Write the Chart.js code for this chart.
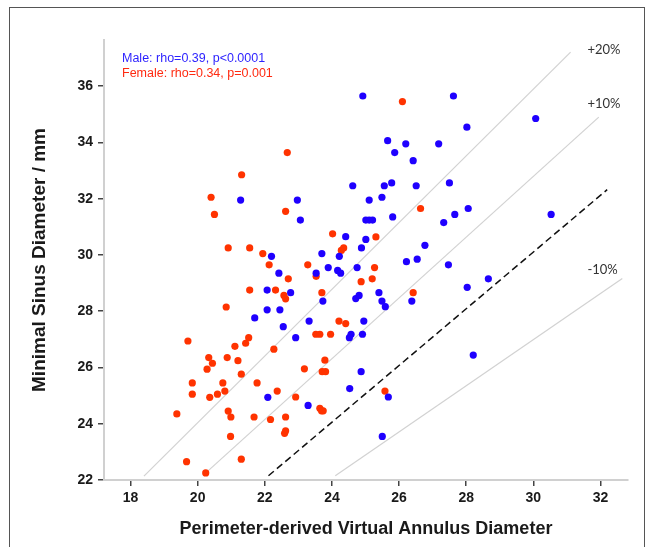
<!DOCTYPE html>
<html>
<head>
<meta charset="utf-8">
<script src="https://cdn.jsdelivr.net/npm/chart.js@4.4.1/dist/chart.umd.min.js"></script>
<style>
  body { margin: 0; background: #fff; }
  #wrap { width: 654px; height: 547px; }
</style>
</head>
<body>
<div id="wrap"><canvas id="scatterChart" width="654" height="547"></canvas></div>
<script>
// tick labels
const xTicks = [18, 20, 22, 24, 26, 28, 30, 32];
const yTicks = [22, 24, 26, 28, 30, 32, 34, 36];

// male: perimeter-derived annulus diameter / minimal sinus diameter
const maleAnnulus = [24.92, 27.62, 28.02, 30.07, 25.66, 26.20, 25.87, 27.18, 26.42, 24.62,
  25.56, 25.78, 26.51, 27.50, 21.28, 22.97, 25.11, 25.49, 28.06, 23.06,
  25.01, 25.11, 25.21, 25.81, 27.66, 27.33, 24.41, 25.01, 24.88, 26.77,
  22.20, 23.70, 24.22, 26.22, 26.54, 27.47, 22.42, 23.89, 24.75, 24.17,
  24.26, 23.53, 28.03, 28.66, 22.77, 25.40, 24.81, 24.71, 23.73, 25.49,
  26.38, 25.59, 22.07, 22.07, 22.45, 21.70, 22.55, 23.32, 24.95, 24.57,
  24.91, 24.52, 22.92, 24.87, 24.53, 25.68, 23.29, 25.50, 28.21, 22.09, 30.53];
const maleSinus = [35.65, 35.65, 34.54, 34.85, 34.06, 33.95, 33.64, 33.95, 33.35, 32.46,
  32.46, 32.56, 32.46, 32.56, 31.95, 31.95, 31.95, 32.05, 31.65, 31.24,
  31.24, 31.24, 31.24, 31.35, 31.44, 31.15, 30.65, 30.55, 30.25, 30.34,
  29.95, 30.05, 29.95, 29.76, 29.85, 29.65, 29.35, 29.55, 29.55, 29.45,
  29.35, 29.35, 28.85, 29.15, 28.66, 28.66, 28.56, 28.45, 28.36, 28.36,
  28.36, 28.16, 28.75, 28.05, 28.05, 27.76, 27.45, 27.65, 27.65, 27.18,
  27.18, 27.06, 27.06, 25.85, 25.25, 24.95, 24.65, 23.55, 26.44, 24.94, 31.44];

// female
const femaleAnnulus = [26.10, 22.67, 21.31, 20.40, 20.50, 22.62, 26.64, 20.91, 21.55, 21.94,
  22.13, 22.70, 21.55, 22.32, 22.57, 22.62, 20.85, 24.02, 25.31, 24.28,
  24.35, 23.28, 25.27, 23.53, 24.87, 25.20, 23.70, 26.42, 24.21, 24.41,
  23.52, 23.64, 23.96, 19.71, 21.52, 21.43, 21.11, 22.27, 20.33, 20.44,
  20.88, 21.20, 20.28, 21.30, 19.84, 20.75, 21.77, 19.84, 20.36, 20.59,
  20.81, 22.37, 19.38, 20.91, 20.99, 21.68, 22.17, 22.62, 22.62, 22.59,
  20.98, 19.67, 21.30, 20.24, 23.79, 23.18, 23.71, 23.81, 25.58, 22.92,
  23.64, 23.69, 23.74];
const femaleSinus = [35.45, 33.64, 32.85, 32.05, 31.44, 31.55, 31.65, 30.25, 30.25, 30.05,
  29.65, 29.15, 28.75, 28.75, 28.56, 28.44, 28.15, 30.75, 30.64, 30.16,
  30.25, 29.65, 29.55, 29.24, 29.05, 29.15, 28.66, 28.66, 27.65, 27.56,
  27.18, 27.18, 27.18, 26.94, 27.06, 26.86, 26.75, 26.65, 26.35, 26.15,
  26.35, 26.24, 25.94, 25.76, 25.45, 25.45, 25.45, 25.05, 24.94, 25.05,
  25.16, 25.16, 24.35, 24.45, 24.24, 24.24, 24.15, 24.24, 23.75, 23.66,
  23.55, 22.65, 22.74, 22.25, 26.26, 25.95, 25.85, 25.85, 25.16, 24.95,
  24.55, 24.46, 24.46];

// reference lines (+20%, +10%, identity, -10%), end points
const refNames = ["+20%", "+10%", "", "-10%"];
const refStartX = [18.40, 20.26, 22.11, 24.10];
const refStartY = [22.14, 22.27, 22.15, 22.15];
const refEndX = [31.11, 31.95, 32.20, 32.65];
const refEndY = [37.21, 34.90, 32.32, 29.16];

const toPoints = (xs, ys) => xs.map((x, i) => ({ x: x, y: ys[i] }));

const refDatasets = refNames.map((name, i) => ({
  type: "line",
  label: name || "identity",
  data: [{ x: refStartX[i], y: refStartY[i] }, { x: refEndX[i], y: refEndY[i] }],
  borderColor: name ? "#d2d2d2" : "#111",
  borderWidth: name ? 1.2 : 1.5,
  borderDash: name ? [] : [7, 4],
  pointRadius: 0,
  fill: false,
  order: 2,
}));

const FONT = "'Liberation Sans', Arial, sans-serif";

// frame, stats text and % labels
const extras = {
  id: "extras",
  beforeDraw(chart) {
    const ctx = chart.ctx;
    ctx.save();
    ctx.fillStyle = "#fff";
    ctx.fillRect(0, 0, chart.width, chart.height);
    ctx.strokeStyle = "#555";
    ctx.lineWidth = 1;
    ctx.strokeRect(9.5, 7.5, 635, 600);
    ctx.restore();
  },
  afterDraw(chart) {
    const ctx = chart.ctx;
    const xs = chart.scales.x, ys = chart.scales.y;
    ctx.save();
    ctx.font = "12.5px " + FONT;
    ctx.textBaseline = "middle";
    ctx.fillStyle = "#2a1fff";
    ctx.fillText("Male: rho=0.39, p<0.0001", 122, 59);
    ctx.fillStyle = "#ff2a10";
    ctx.fillText("Female: rho=0.34, p=0.001", 122, 74);

    ctx.font = "13px Lato, 'Open Sans', sans-serif";
    ctx.fillStyle = "#333";
    const labelY = [37.28, 35.37, null, 29.48];
    refNames.forEach((name, i) => {
      if (!name) return;
      ctx.fillText(name, xs.getPixelForValue(31.61), ys.getPixelForValue(labelY[i]));
    });
    ctx.restore();
  },
};

new Chart(document.getElementById("scatterChart"), {
  type: "scatter",
  data: {
    datasets: [
      {
        label: "Male",
        data: toPoints(maleAnnulus, maleSinus),
        backgroundColor: "#1f00ff",
        borderWidth: 0,
        pointRadius: 3.6,
        order: 1,
      },
      {
        label: "Female",
        data: toPoints(femaleAnnulus, femaleSinus),
        backgroundColor: "#ff3300",
        borderWidth: 0,
        pointRadius: 3.6,
        order: 1,
      },
      ...refDatasets,
    ],
  },
  options: {
    responsive: false,
    animation: false,
    devicePixelRatio: 1,
    layout: { padding: { top: 40, right: 26, bottom: 0, left: 0 } },
    plugins: {
      legend: { display: false },
      tooltip: { enabled: false },
    },
    scales: {
      x: {
        type: "linear",
        min: 17.21,
        max: 32.82,
        afterBuildTicks: (axis) => { axis.ticks = xTicks.map((v) => ({ value: v })); },
        afterFit: (axis) => { axis.height = 67; },
        grid: { drawOnChartArea: false, drawTicks: true, tickLength: 6, color: "#444", lineWidth: 1.5 },
        border: { display: true, color: "#d0d0d0", width: 2 },
        ticks: { padding: 4, color: "#1a1a1a", font: { family: FONT, size: 14, weight: "bold" } },
        title: {
          display: true,
          text: "Perimeter-derived Virtual Annulus Diameter",
          color: "#1a1a1a",
          font: { family: FONT, size: 18, weight: "bold" },
          padding: { top: 0, bottom: 7.2 },
        },
      },
      y: {
        type: "linear",
        min: 22,
        max: 37.64,
        afterBuildTicks: (axis) => { axis.ticks = yTicks.map((v) => ({ value: v })); },
        afterFit: (axis) => { axis.width = 104; },
        grid: { drawOnChartArea: false, drawTicks: true, tickLength: 6, color: "#444", lineWidth: 1.5 },
        border: { display: true, color: "#d0d0d0", width: 2 },
        ticks: { padding: 5, color: "#1a1a1a", font: { family: FONT, size: 14, weight: "bold" } },
        title: {
          display: true,
          text: "Minimal Sinus Diameter / mm",
          color: "#1a1a1a",
          font: { family: FONT, size: 19, weight: "bold" },
          padding: { top: 28.6, bottom: 0 },
        },
      },
    },
  },
  plugins: [extras],
});
</script>
</body>
</html>
